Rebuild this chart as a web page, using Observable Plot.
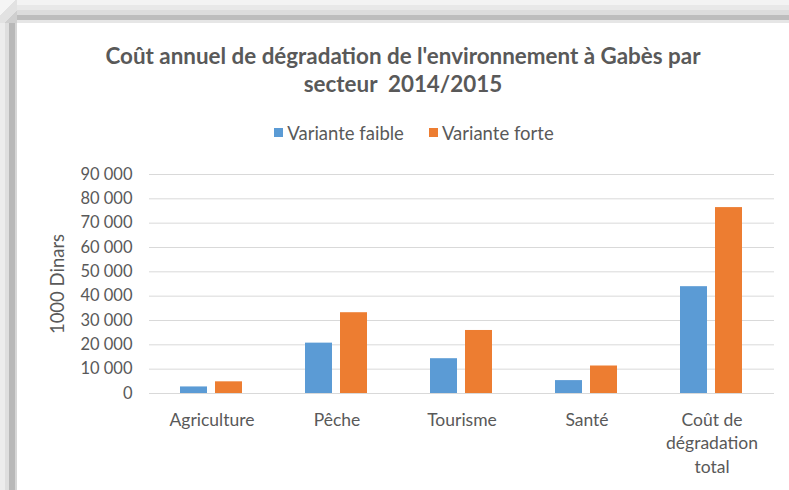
<!DOCTYPE html>
<html>
<head>
<meta charset="utf-8">
<script src="https://cdn.jsdelivr.net/npm/d3@7"></script>
<script src="https://cdn.jsdelivr.net/npm/@observablehq/plot@0.6"></script>
<style>
  html, body { margin: 0; padding: 0; }
  body { width: 789px; height: 490px; overflow: hidden; position: relative; background: #fff; font-family: Lato, "Open Sans", sans-serif; }
  #frameTop { position: absolute; left: 8px; top: 0; width: 781px; height: 23px;
    background: linear-gradient(to bottom, #f3f3f3 0 5px, #e8e8e8 5px 10px, #dcdcdc 10px 15px, #bdbdbd 15px 20px, #e6e6e6 20px 23px); }
  #frameLeft { position: absolute; left: 0; top: 14px; width: 17px; height: 476px;
    background: linear-gradient(to right, #ececec 0 5px, #dedede 5px 9px, #b8b8b8 9px 15px, #d6d6d6 15px 17px); }
  #frameCorner { position: absolute; left: 0; top: 0; width: 17px; height: 23px;
    background: linear-gradient(135deg, #f5f5f5 0 40%, #e2e2e2 40% 70%, #cfcfcf 70%); }
  #title { position: absolute; left: 17px; top: 42px; width: 772px; text-align: center;
    font-family: Lato, sans-serif; font-weight: 700; font-size: 22.4px; line-height: 28px; color: #595959; white-space: pre; }
  #legend { position: absolute; left: 64px; top: 116px; width: 725px; }
  #legend .gb-swatches { justify-content: center; min-height: 33px; font-family: Lato, sans-serif; font-size: 18.5px; color: #595959; }
  #legend .gb-swatch { margin-right: 25px; }
  #legend .gb-swatch svg { margin-right: 4px; }
  #chart { position: absolute; left: 0; top: 160px; }
</style>
</head>
<body>
<div id="frameTop"></div>
<div id="frameLeft"></div>
<div id="frameCorner"></div>
<div id="title">Coût annuel de dégradation de l'environnement à Gabès par
secteur  2014/2015</div>
<div id="legend"></div>
<div id="chart"></div>
<script>
const categories = ["Agriculture", "Pêche", "Tourisme", "Santé", "Coût de dégradation total"];
const categoryLabels = ["Agriculture", "Pêche", "Tourisme", "Santé", "Coût de\ndégradation\ntotal"];
const seriesNames = ["Variante faible", "Variante forte"];
const varianteFaible = [2700, 20700, 14300, 5300, 43900];
const varianteForte = [4800, 33200, 25900, 11300, 76400];
const seriesColors = ["#5b9bd5", "#ed7d31"];
const yTicks = [0, 10000, 20000, 30000, 40000, 50000, 60000, 70000, 80000, 90000];

const data = [];
categories.forEach((c, i) => {
  data.push({category: c, series: seriesNames[0], value: varianteFaible[i]});
  data.push({category: c, series: seriesNames[1], value: varianteForte[i]});
});

const fmt = d => d3.format(",")(d).replace(/,/g, "\u00a0");
const labelOf = c => categoryLabels[categories.indexOf(c)];

const plot = Plot.plot({
  width: 789,
  height: 330,
  marginLeft: 147,
  marginRight: 14,
  marginTop: 14,
  marginBottom: 97,
  style: {fontFamily: "Lato, sans-serif", fontSize: "16px", color: "#595959", background: "transparent"},
  fx: {domain: categories, padding: 0, label: null},
  x: {domain: seriesNames, paddingInner: 0.22, paddingOuter: 0.86, axis: null},
  y: {domain: [0, 90000], label: null},
  color: {domain: seriesNames, range: seriesColors},
  marks: [
    Plot.gridY(yTicks, {stroke: "#d9d9d9", strokeOpacity: 1, strokeWidth: 1}),
    Plot.barY(data, {fx: "category", x: "series", y: "value", fill: "series"}),
    Plot.axisY({ticks: yTicks, tickSize: 0, tickPadding: 17, tickFormat: fmt, fill: "#595959", fontSize: 16.5,
      label: "1000 Dinars", labelAnchor: "center", labelArrow: "none", labelOffset: 99}),
    Plot.axisFx({anchor: "bottom", tickSize: 0, tickPadding: 15, tickFormat: labelOf, lineHeight: 1.37, fontSize: 17.5, fill: "#595959", label: null})
  ]
});
document.getElementById("chart").appendChild(plot);
// enlarge the y-axis title text only
plot.querySelectorAll("text").forEach(t => { if (t.textContent === "1000 Dinars") t.setAttribute("font-size", 18.5); });

const legend = plot.legend("color", {className: "gb", swatchSize: 9});
document.getElementById("legend").appendChild(legend);
</script>
</body>
</html>
